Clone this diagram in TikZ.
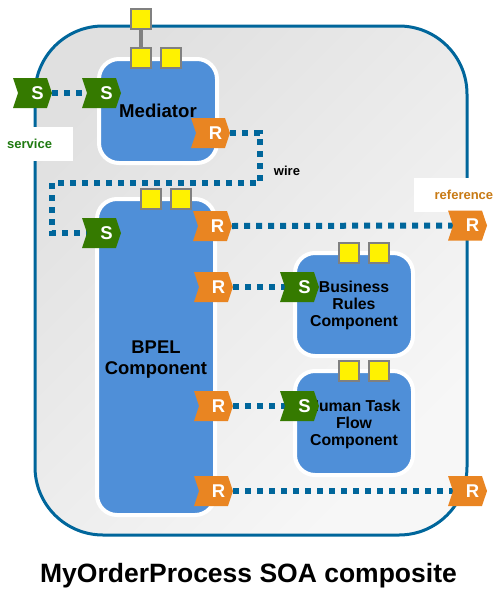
\documentclass[tikz,border=0pt]{standalone}
\usepackage{fontspec}
\setmainfont{Liberation Sans}
\usetikzlibrary{shapes.symbols}
\definecolor{frameblue}{HTML}{00669B}
\definecolor{compblue}{HTML}{4F8FD8}
\definecolor{sgreen}{HTML}{357A00}
\definecolor{rorange}{HTML}{E98522}
\definecolor{svcgreen}{HTML}{1E7A10}
\definecolor{refbrown}{HTML}{C87A14}
\definecolor{sqgray}{HTML}{808080}
\pgfdeclarelayer{bg}
\pgfdeclarelayer{wires}
\pgfsetlayers{bg,wires,main}
\newcommand{\chevtext}[1]{\hspace*{10pt}#1}
\tikzset{
  x=1pt,y=-1pt,
  outerbox/.style={draw=frameblue,line width=3pt,rounded corners=68pt,top color=black!12,bottom color=black!3,shading angle=45,minimum width=432pt,minimum height=509pt,inner sep=0pt},
  compbox/.style={draw=white,line width=4pt,fill=compblue,rounded corners=20pt,minimum width=118pt,inner sep=0pt,align=center,font=\bfseries\fontsize{15.8}{17}\selectfont},
  chev/.style={shape=signal,signal to=east,signal from=west,signal pointer angle=143,minimum width=39pt,minimum height=30pt,inner sep=0pt,text=white,font=\bfseries\fontsize{18.5}{19}\selectfont},
  chevS/.style={chev,fill=sgreen},
  chevR/.style={chev,fill=rorange},
  sq/.style={draw=sqgray,line width=2pt,fill=yellow,minimum size=20pt,inner sep=0pt},
  wirepath/.style={draw=frameblue,line width=6pt,dash pattern=on 6pt off 6pt},
  note/.style={font=\bfseries\fontsize{13}{13}\selectfont,inner sep=0pt},
}
\begin{document}
\begin{tikzpicture}
\path[use as bounding box] (0,0) rectangle (493,592);
\begin{pgfonlayer}{bg}
\node[outerbox] (outer) at (251,280.5) {};
\node[compbox,minimum height=104pt,font=\bfseries\fontsize{18.6}{21}\selectfont] (med) at (158,111) {Mediator};
\node[compbox,minimum height=316pt,font=\bfseries\fontsize{18.4}{21}\selectfont] (bpel) at (156,357) {\rule{0pt}{18pt}BPEL\\Component};
\node[compbox,minimum height=103pt] (brc) at (354,304.5) {\rule{0pt}{14pt}Business\\Rules\\Component};
\node[compbox,minimum height=104pt] (hum) at (354,423) {\rule{0pt}{14pt}Human Task\\Flow\\Component};
\end{pgfonlayer}
% white label boxes
\node[fill=white,note,text=svcgreen,minimum height=34pt,text width=66pt,inner xsep=0pt,align=left,anchor=west,xshift=7pt] (svc) at (0,144) {service};
\fill[white] (0,127) rectangle (7,161);
\node[fill=white,note,text=refbrown,minimum height=34pt,text width=79pt,align=right,anchor=west] (ref) at (414,195) {reference};
\node[note] (wire) at (287,171) {wire};
% yellow squares
\node[sq] (q0) at (141,19) {};
\node[sq] (q1) at (141,58) {};
\node[sq] (q2) at (171,58) {};
\node[sq] (q3) at (151,199) {};
\node[sq] (q4) at (181,199) {};
\node[sq] (q5) at (349,252.5) {};
\node[sq] (q6) at (378.5,252.5) {};
\node[sq] (q7) at (349,371) {};
\node[sq] (q8) at (378.5,371) {};
\draw[draw=sqgray,line width=4pt] (q0) -- (q1);
% chevrons
\node[chevS] (s0) at (32.5,93) {\chevtext{S}};
\node[chevS] (s1) at (101.5,93) {\chevtext{S}};
\node[chevR] (r0) at (210.5,133) {\chevtext{R}};
\node[chevS] (s2) at (101.5,233) {\chevtext{S}};
\node[chevR] (r1) at (212.5,226) {\chevtext{R}};
\node[chevR] (r2) at (467.5,225.5) {\chevtext{R}};
\node[chevR] (r3) at (213.5,287) {\chevtext{R}};
\node[chevS] (s3) at (299.5,287) {\chevtext{S}};
\node[chevR] (r4) at (213.5,406) {\chevtext{R}};
\node[chevS] (s4) at (299.5,406) {\chevtext{S}};
\node[chevR] (r5) at (213.5,491) {\chevtext{R}};
\node[chevR] (r6) at (467.5,491) {\chevtext{R}};
% wires
\coordinate (w1) at (260,133);
\coordinate (w2) at (260,183);
\coordinate (w3) at (52,183);
\coordinate (w4) at (52,233);
\begin{pgfonlayer}{wires}
\path[wirepath] (s0.east) -- (s1.west);
\path[wirepath] (r0.east) -- (w1) -- (w2) -- (w3) -- (w4) -- (s2.west);
\path[wirepath] (r1.east) -- (r2.west);
\path[wirepath] (r3.east) -- (s3.west);
\path[wirepath] (r4.east) -- (s4.west);
\path[wirepath] (r5.east) -- (r6.west);
\end{pgfonlayer}
\node[font=\bfseries\fontsize{26.5}{26.5}\selectfont,inner sep=0pt] (title) at (248.5,576) {MyOrderProcess SOA composite};
\end{tikzpicture}
\end{document}
